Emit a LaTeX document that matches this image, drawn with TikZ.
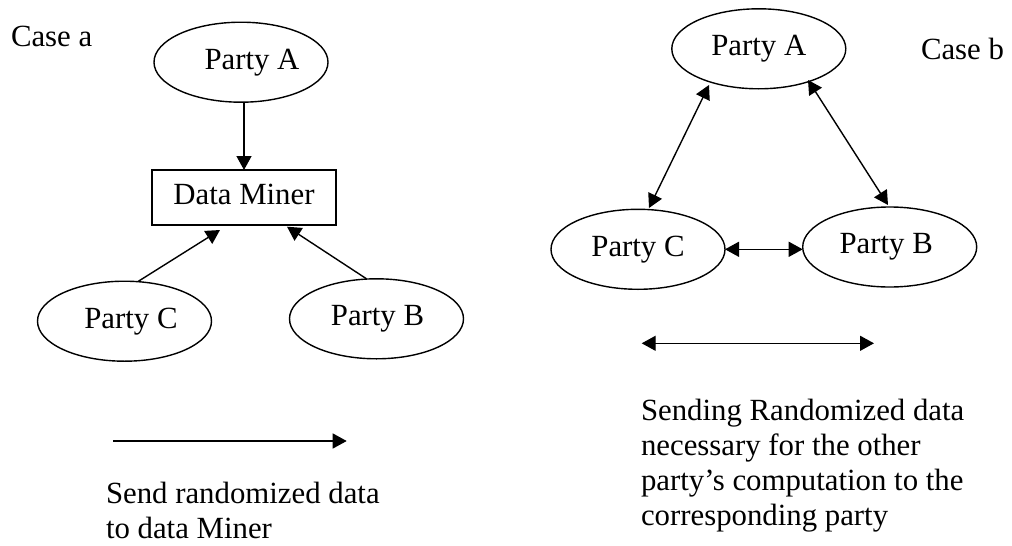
\documentclass[tikz,border=0pt]{standalone}
\usepackage{fontspec}
\setmainfont{Liberation Serif}
\usetikzlibrary{shapes.geometric,arrows.meta}
\newcommand\shf[3]{\raisebox{#2}{\hspace*{#1}#3}}
\begin{document}
\begin{tikzpicture}[x=1pt,y=-1pt,
  every node/.style={font=\fontsize{30.8}{35}\selectfont, inner sep=0pt, outer sep=0pt},
  party/.style={ellipse, draw, line width=1.4pt, minimum width=174pt, minimum height=80pt},
  minerbox/.style={rectangle, draw, line width=1.4pt, minimum width=184pt, minimum height=55pt},
  arr/.style={line width=1.4pt, -{Triangle[length=14pt,width=15pt]}},
  biarr/.style={line width=1.4pt, {Triangle[length=14pt,width=15pt]}-{Triangle[length=14pt,width=15pt]}},
  lbl/.style={anchor=base west, align=left}
]
\useasboundingbox (0,0) rectangle (1012,546);

% ---------- Case a ----------
\node[lbl] (casea) at (11,46.7) {Case a};
\node[party] (lA) at (241,62.2) {\shf{22pt}{1.5pt}{Party A}};
\node[minerbox] (lDM) at (244,197.5) {\shf{0pt}{7pt}{Data Miner}};
\node[party] (lC) at (124.5,321.2) {\shf{13pt}{2.5pt}{Party C}};
\node[party] (lB) at (376.5,318.8) {\shf{2pt}{6.5pt}{Party B}};

\draw[arr] (lA.south -| lDM.north) -- (lDM.north);
\draw[arr] ([shift={(14,0)}]lC.north) -- ([shift={(-24,5)}]lDM.south);
\draw[arr] ([shift={(-10,0)}]lB.north) -- ([shift={(43,1.7)}]lDM.south);

\coordinate (la1) at (113.3,441);
\coordinate (la2) at (346.7,441);
\draw[arr] (la1) -- (la2);
% base anchor of a multi-line node = baseline of its last line
\node[lbl] (capa) at (106,538.5) {Send randomized data\\to data Miner};

% ---------- Case b ----------
\node[lbl] (caseb) at (921,59) {Case b};
\node[party] (rA) at (758.8,48.8) {\shf{0pt}{0.5pt}{Party A}};
\node[party] (rC) at (638,249.3) {\shf{0pt}{3pt}{Party C}};
\node[party] (rB) at (889.7,247) {\shf{-7pt}{3.5pt}{Party B}};

\draw[biarr] ([shift={(-49.8,36.2)}]rA.center) -- ([shift={(11,-41.3)}]rC.center);
\draw[biarr] ([shift={(49.2,31.2)}]rA.center) -- ([shift={(-1.7,-42)}]rB.center);
\draw[biarr] (rC.east) -- (rC.east -| rB.west);

\coordinate (lb1) at (641.7,343.3);
\coordinate (lb2) at (874,343.3);
\draw[biarr] (lb1) -- (lb2);
\node[lbl] (capb) at (641,525) {Sending Randomized data\\necessary for the other\\party’s computation to the\\corresponding party};
\end{tikzpicture}
\end{document}
